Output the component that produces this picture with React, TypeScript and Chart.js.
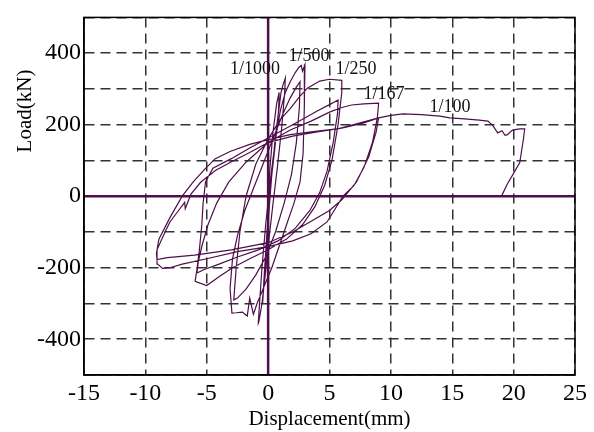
import React, { useEffect, useRef } from 'react';
import { Chart, registerables } from 'chart.js';

Chart.register(...registerables);

// ---- axis ticks ----
const xMin = -15;
const xMax = 25;
const xStep = 5;
const yMin = -500;
const yMax = 500;
const yStep = 100;
const yLabelValues = [-400, -200, 0, 200, 400];

// ---- hysteresis path (displacement mm / load kN) ----
// drift 1/1000
const disp1000 = [0, 0.15, 0.4, 0.7, 0.9, 0.85, 0.6, 0.3, 0.05, -0.15, -0.35, -0.45, -0.35, -0.15, 0.05, 0.3, 0.6, 0.9, 1.05, 1.2, 1.4, 1.35, 1.1, 0.75, 0.4, 0.1, -0.2, -0.5, -0.75, -0.8];
const load1000 = [0, 80, 180, 260, 290, 240, 150, 60, -30, -130, -240, -300, -250, -150, -50, 60, 170, 250, 290, 310, 330, 290, 190, 80, -20, -110, -210, -300, -350, -355];
// drift 1/500
const disp500 = [-0.7, -0.5, -0.2, 0.2, 0.6, 1.0, 1.4, 1.8, 2.2, 2.5, 2.7, 2.8, 3.0, 2.95, 2.85, 2.6, 2.1, 1.5, 0.9, 0.3, -0.3, -0.9, -1.2, -1.5, -1.7, -2.1, -2.6, -2.95, -3.1, -2.9, -2.5, -1.9, -1.1, -0.3, 0.5, 1.2, 1.8, 2.3, 2.6, 2.55, 2.3, 1.9, 1.3, 0.6, -0.2, -1.0, -1.8, -2.5, -2.8];
const load500 = [-300, -200, -80, 50, 160, 240, 290, 320, 345, 360, 366, 350, 368, 250, 120, 40, -20, -80, -140, -200, -250, -300, -330, -285, -335, -324, -326, -327, -258, -175, -110, -40, 30, 100, 170, 230, 275, 305, 320, 250, 150, 60, -20, -100, -170, -220, -260, -285, -290];
// drift 1/250
const disp250 = [-2.6, -2.3, -1.8, -1.0, 0, 1.0, 1.8, 2.6, 3.2, 4.2, 5.0, 6.0, 6.0, 5.7, 5.2, 4.6, 3.8, 2.8, 1.5, 0, -1.5, -2.9, -4.0, -5.0, -5.95, -5.8, -5.6, -5.4, -5.3, -5.1, -4.5, -3.0, -1.5, 0, 2.0, 4.0, 5.0, 5.7, 5.65, 5.3, 4.8, 4.2, 3.4, 2.2, 0.8, -0.8, -2.5, -4.0, -5.2, -5.8, -5.7, -5.4, -4.9, -4.2, -3.2, -1.8, 0, 1.8, 3.5, 5.0, 6.0, 6.8, 7.8, 9.0];
const load250 = [-200, -100, 0, 90, 160, 215, 245, 280, 302, 322, 327, 324, 290, 200, 100, 30, -30, -80, -120, -150, -175, -200, -225, -250, -238, -205, -150, -80, -20, 40, 78, 105, 135, 163, 200, 238, 256, 269, 230, 150, 70, 10, -40, -90, -125, -150, -170, -190, -205, -215, -185, -140, -80, -20, 40, 95, 150, 185, 210, 235, 248, 255, 258, 260];
// drift 1/167
const disp167 = [8.9, 8.5, 7.8, 7.0, 6.1, 4.8, 3.5, 2.0, 0, -2.5, -5.0, -7.0, -8.0, -8.6, -9.0, -9.05, -8.4, -8.0, -7.3, -6.8, -6.75, -6.3, -5.5, -4.3, -3.1, -1.5, 0, 2.0, 4.0, 6.0, 7.8, 9.0, 8.8, 8.2, 7.2, 6.0, 5.0, 3.4, 2.0, 0, -3.0, -6.0, -8.2, -9.05, -9.1, -8.9, -8.0, -7.0, -6.1, -5.1, -4.3, -3.1, -1.5, 0, 1.8, 3.5, 5.6, 7.5, 9.0];
const load167 = [220, 150, 80, 30, 0, -72, -105, -125, -141, -155, -175, -190, -200, -202, -190, -150, -100, -72, -40, -17, -35, 5, 39, 72, 94, 122, 150, 168, 180, 190, 205, 219, 180, 110, 40, -10, -40, -72, -100, -130, -150, -165, -172, -177, -160, -120, -60, 0, 40, 78, 105, 125, 145, 158, 172, 180, 188, 205, 219];
// drift 1/100
const disp100 = [10, 11, 12.5, 14, 14.8, 16, 17.2, 17.9, 18.3, 18.7, 19.05, 19.3, 19.5, 19.9, 20.5, 20.9, 20.8, 20.5, 19.95, 19.5, 19.05];
const load100 = [226, 230, 228, 224, 219, 216, 213, 210, 198, 177, 183, 170, 172, 185, 188, 188, 160, 94, 61, 35, 3];

const dispStages = [disp1000, disp500, disp250, disp167, disp100];
const loadStages = [load1000, load500, load250, load167, load100];

// ---- drift level labels ----
const driftLabels = ['1/1000', '1/500', '1/250', '1/167', '1/100'];
const driftLabelX = [-1.07, 3.33, 7.16, 9.44, 14.82];
const driftLabelY = [355, 391, 355, 285, 249];

const curveColor = '#4e0f4a';
const serif = "'Liberation Serif', 'Times New Roman', serif";

export default function App() {
  const canvasRef = useRef<HTMLCanvasElement | null>(null);

  useEffect(() => {
    document.body.style.margin = '0';
    const canvas = canvasRef.current;
    if (!canvas) return;

    const points: { x: number; y: number }[] = [];
    dispStages.forEach((ds, s) => {
      ds.forEach((d, i) => points.push({ x: d, y: loadStages[s][i] }));
    });

    const overlay = {
      id: 'overlay',
      beforeDatasetsDraw(chart: any) {
        const { ctx, chartArea, scales } = chart;
        const x0 = scales.x.getPixelForValue(0);
        const y0 = scales.y.getPixelForValue(0);
        ctx.save();
        ctx.strokeStyle = curveColor;
        ctx.lineWidth = 2.5;
        ctx.beginPath();
        ctx.moveTo(chartArea.left, y0);
        ctx.lineTo(chartArea.right, y0);
        ctx.moveTo(x0, chartArea.top);
        ctx.lineTo(x0, chartArea.bottom);
        ctx.stroke();
        ctx.restore();
      },
      afterDraw(chart: any) {
        const { ctx, chartArea, scales } = chart;
        ctx.save();
        ctx.strokeStyle = '#000';
        ctx.lineWidth = 1.5;
        ctx.strokeRect(chartArea.left, chartArea.top, chartArea.right - chartArea.left, chartArea.bottom - chartArea.top);
        ctx.fillStyle = '#111';
        ctx.font = `18px ${serif}`;
        ctx.textAlign = 'center';
        ctx.textBaseline = 'middle';
        driftLabels.forEach((t, i) => {
          ctx.fillText(t, scales.x.getPixelForValue(driftLabelX[i]), scales.y.getPixelForValue(driftLabelY[i]));
        });
        ctx.translate(25, 111);
        ctx.rotate(-Math.PI / 2);
        ctx.font = `21px ${serif}`;
        ctx.fillStyle = '#000';
        ctx.fillText('Load(kN)', 0, 0);
        ctx.restore();
      },
    };

    const chart = new Chart(canvas, {
      type: 'scatter',
      data: {
        datasets: [
          {
            data: points,
            showLine: true,
            borderColor: curveColor,
            borderWidth: 1.2,
            pointRadius: 0,
            tension: 0,
            fill: false,
          },
        ],
      },
      options: {
        animation: false,
        responsive: true,
        maintainAspectRatio: false,
        layout: { padding: { top: 13, right: 19, left: 0, bottom: 0 } },
        plugins: { legend: { display: false }, tooltip: { enabled: false } },
        scales: {
          x: {
            type: 'linear',
            min: xMin,
            max: xMax,
            afterFit: (s: any) => { s.height = 57; },
            ticks: {
              stepSize: xStep,
              color: '#000',
              padding: 4,
              font: { family: serif, size: 24 },
              maxRotation: 0,
            },
            grid: { color: '#333', lineWidth: 1.5, drawTicks: false },
            border: { display: true, color: '#000', width: 1.5, dash: [10, 6] },
            title: {
              display: true,
              text: 'Displacement(mm)',
              color: '#000',
              font: { family: serif, size: 21 },
              padding: { top: 0, bottom: 0 },
            },
          },
          y: {
            type: 'linear',
            min: yMin,
            max: yMax,
            afterFit: (s: any) => { s.width = 84; },
            ticks: {
              stepSize: yStep,
              color: '#000',
              padding: 3,
              font: { family: serif, size: 24 },
              callback: (v: any) => (yLabelValues.includes(Number(v)) ? String(v) : ''),
            },
            grid: { color: '#333', lineWidth: 1.5, drawTicks: false },
            border: { display: true, color: '#000', width: 1.5, dash: [10, 6] },
          },
        },
      },
      plugins: [overlay],
    });

    return () => chart.destroy();
  }, []);

  return (
    <div style={{ position: 'relative', width: 594, height: 432 }}>
      <canvas ref={canvasRef} />
    </div>
  );
}
